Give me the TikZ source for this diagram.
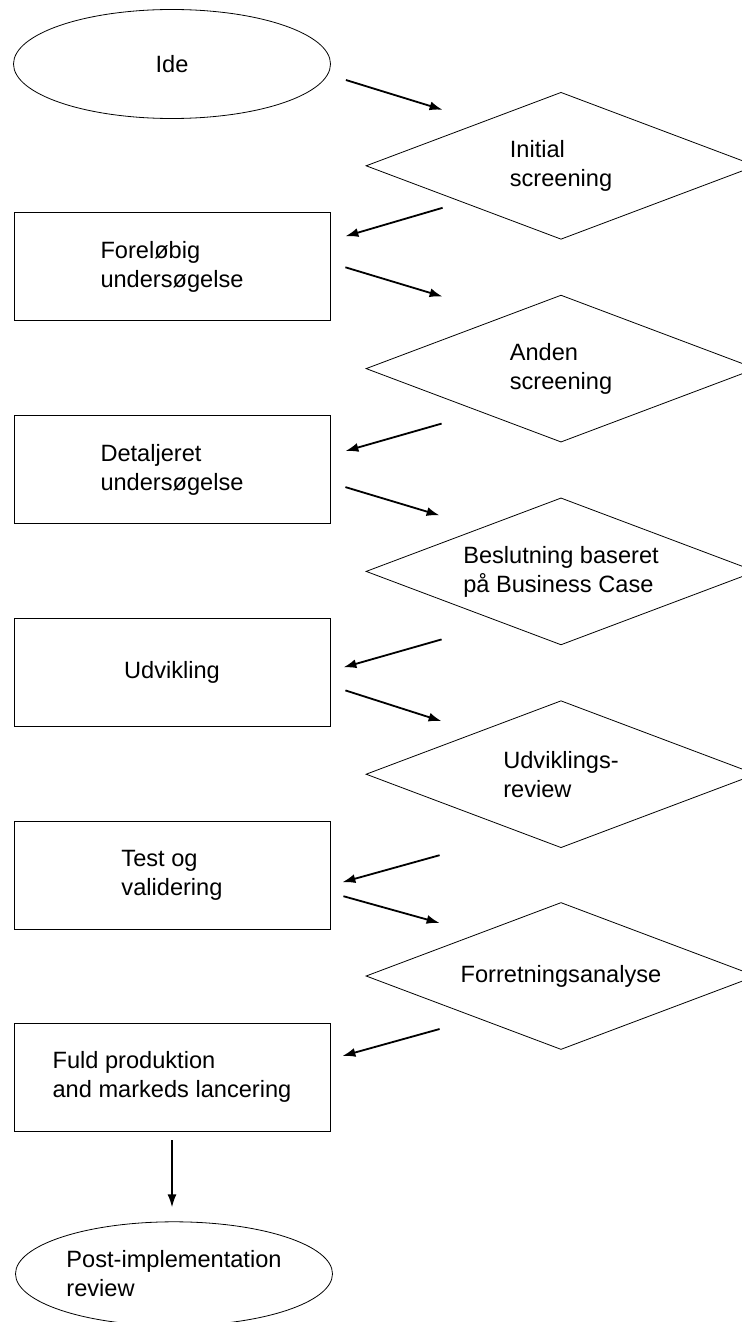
\documentclass[tikz,border=0pt]{standalone}
\usepackage{fontspec}
\setmainfont{Liberation Sans}
\usetikzlibrary{arrows.meta,positioning,shapes.geometric}

\begin{document}
\begin{tikzpicture}[
    x=0.5pt, y=-0.5pt,
    >=Latex,
    every node/.style={font=\fontsize{11.8}{14.5}\selectfont, align=left},
    box/.style={draw, line width=0.4pt, rectangle, minimum width=158pt, minimum height=54pt, inner sep=1pt},
    decision/.style={draw, line width=0.4pt, diamond, aspect=2.65, minimum width=195pt, minimum height=73.5pt, inner sep=1pt},
    terminal/.style={draw, line width=0.4pt, ellipse, minimum width=158.5pt, minimum height=54.5pt, inner sep=1pt},
    arr/.style={draw, line width=0.9pt, -{Latex[length=6.5pt, width=4.5pt]}}
]
\useasboundingbox (0,0) rectangle (742,1322);

% Nodes
\node[terminal] (ide) at (172,64) {Ide};
\node[box, below=46.75pt of ide] (forund) {Foreløbig\\undersøgelse};
\node[box, below=47pt of forund] (detund) {Detaljeret\\undersøgelse};
\node[box, below=47pt of detund] (udv) {Udvikling};
\node[box, below=47pt of udv] (test) {Test og\\validering};
\node[box, below=46.5pt of test] (fuld) {Fuld produktion\\and markeds lancering};
\node[terminal, minimum height=52pt, below=45pt of fuld, xshift=1pt] (postrev) {Post-implementation\\review};

\node[decision, on grid, above right=50.5pt and 194.5pt of forund] (screen1) {Initial\\screening};
\node[decision, on grid, above right=50.5pt and 194.5pt of detund] (screen2) {Anden\\screening};
\node[decision, on grid, above right=50.5pt and 194.5pt of udv] (bizcase) {Beslutning baseret\\på Business Case};
\node[decision, on grid, above right=50.5pt and 194.5pt of test] (udvrev) {Udviklings-\\review};
\node[decision, on grid, above right=50.5pt and 194.5pt of fuld] (forret) {Forretningsanalyse};

% Connections
\path[arr] ([shift={(15,16)}]ide.east) -- ([shift={(77,-56)}]screen1.west);
\path[arr] ([shift={(77,42)}]screen1.west) -- ([shift={(15,-30.5)}]forund.east);
\path[arr] ([shift={(15,0.5)}]forund.east) -- ([shift={(77,-72)}]screen2.west);
\path[arr] ([shift={(76,55)}]screen2.west) -- ([shift={(15,-18.5)}]detund.east);
\path[arr] ([shift={(15,17.5)}]detund.east) -- ([shift={(74,-56)}]bizcase.west);
\path[arr] ([shift={(76,68)}]bizcase.west) -- ([shift={(13,-5)}]udv.east);
\path[arr] ([shift={(15,18)}]udv.east) -- ([shift={(76,-53)}]udvrev.west);
\path[arr] ([shift={(74,81)}]udvrev.west) -- ([shift={(12,7)}]test.east);
\path[arr] ([shift={(13,21)}]test.east) -- ([shift={(74,-53)}]forret.west);
\path[arr] ([shift={(74,53)}]forret.west) -- ([shift={(12,-21)}]fuld.east);
\path[arr] ([shift={(0,9)}]fuld.south) -- ([shift={(-2,-14)}]postrev.north);

\end{tikzpicture}
\end{document}
